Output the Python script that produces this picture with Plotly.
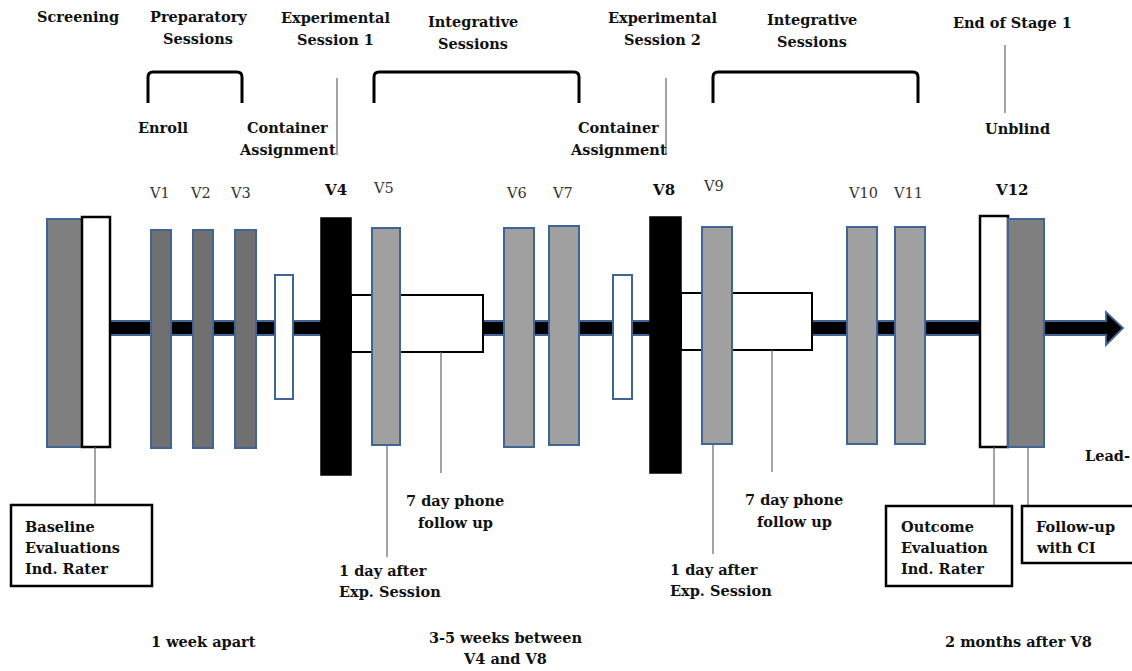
import plotly.graph_objects as go

# ---------------- data ----------------
visit_labels = ["V1", "V2", "V3", "V4", "V5", "V6", "V7", "V8", "V9", "V10", "V11", "V12"]
visit_x0 = [151, 193, 235, 321, 372, 504, 549, 650, 702, 847, 895, 980]
visit_x1 = [171, 213, 256, 351, 400, 534, 579, 681, 732, 877, 925, 1008]
visit_y0 = [230, 230, 230, 218, 228, 228, 226, 217, 227, 227, 227, 216]
visit_y1 = [448, 448, 448, 475, 445, 447, 445, 473, 444, 444, 444, 447]
visit_kind = ["prep", "prep", "prep", "exp", "int", "int", "int", "exp", "int", "int", "int", "end"]
visit_label_x = [159, 200, 240, 335, 383, 516, 562, 663, 713, 863, 908, 1012]
visit_label_y = [193, 193, 193, 190, 188, 193, 193, 190, 186, 193, 193, 190]

top_titles = ["Screening", "Preparatory<br>Sessions", "Experimental<br>Session 1",
              "Integrative<br>Sessions", "Experimental<br>Session 2",
              "Integrative<br>Sessions", "End of Stage 1"]
top_title_x = [78, 198, 335, 473, 662, 812, 1012]
top_title_y = [16, 16, 17, 21, 17, 19, 22]

brackets_x0 = [148, 374, 713]
brackets_x1 = [242, 579, 918]

mid_labels = ["Enroll", "Container<br>Assignment", "Container<br>Assignment", "Unblind"]
mid_label_x = [163, 287, 618, 1017]
mid_label_y = [127, 127, 127, 128]

bottom_notes = ["1 week apart", "3-5 weeks between<br>V4 and V8", "2 months after V8"]
bottom_note_x = [203, 505, 1018]
bottom_note_y = [641, 637, 641]

# ---------------- styles ----------------
BLUE = "#3f6597"
FILL = {"prep": "#707070", "int": "#a0a0a0", "exp": "#000000", "end": "#ffffff"}
FONT = "DejaVu Serif"
FS = 14.5
LH = 22

fig = go.Figure()
shapes = []
ann = []

def rect(x0, y0, x1, y1, fill, line, lw):
    shapes.append(dict(type="rect", xref="x", yref="y", x0=x0, x1=x1, y0=y0, y1=y1,
                       fillcolor=fill, line=dict(color=line, width=lw), layer="above"))

def vline(x, y0, y1, color="#666666", w=1.2):
    shapes.append(dict(type="line", xref="x", yref="y", x0=x, x1=x, y0=y0, y1=y1,
                       line=dict(color=color, width=w), layer="above"))

def text(x, y, s, bold=True, anchor="center", size=FS, color="#111111", lh=LH):
    # y is the centre of the first line; further lines follow at lh spacing
    for i, line in enumerate(s.split("<br>")):
        ann.append(dict(x=x, y=y + i * lh, xref="x", yref="y",
                        text=("<b>%s</b>" % line) if bold else line,
                        showarrow=False, xanchor=anchor, yanchor="middle",
                        font=dict(family=FONT, size=size, color=color)))

# timeline arrow
shapes.append(dict(type="path", xref="x", yref="y",
                   path="M 110 321 L 1106 321 L 1106 312 L 1123 328 L 1106 345 L 1106 335 L 110 335 Z",
                   fillcolor="#000000", line=dict(color=BLUE, width=1.8), layer="above"))

# phone follow-up boxes (behind visits)
rect(351, 295, 483, 352, "#ffffff", "#000000", 2)
rect(681, 293, 812, 350, "#ffffff", "#000000", 2)

# container assignment small boxes
rect(275, 275, 293, 399, "#ffffff", BLUE, 2)
rect(613, 275, 632, 399, "#ffffff", BLUE, 2)

# screening blocks
rect(47, 219, 82, 447, "#7f7f7f", BLUE, 2)
rect(82, 217, 110, 447, "#ffffff", "#000000", 2.5)

# visits
for i, lab in enumerate(visit_labels):
    k = visit_kind[i]
    if k == "exp":
        rect(visit_x0[i], visit_y0[i], visit_x1[i], visit_y1[i], "#000000", "#000000", 1.5)
    elif k == "end":
        rect(visit_x0[i], visit_y0[i], visit_x1[i], visit_y1[i], "#ffffff", "#000000", 2.5)
    else:
        rect(visit_x0[i], visit_y0[i], visit_x1[i], visit_y1[i], FILL[k], BLUE, 2)
    bold = k in ("exp", "end")
    text(visit_label_x[i], visit_label_y[i], lab, bold=bold, size=15 if bold else 14.5,
         color="#111111" if bold else "#333333")

# final follow-up gray block
rect(1008, 219, 1044, 447, "#7f7f7f", BLUE, 2)

# brackets
for x0, x1 in zip(brackets_x0, brackets_x1):
    top, bot, r = 72, 103, 5
    shapes.append(dict(type="path", xref="x", yref="y",
                       path="M %d %d L %d %d Q %d %d %d %d L %d %d Q %d %d %d %d L %d %d" % (
                           x0, bot, x0, top + r, x0, top, x0 + r, top, x1 - r, top, x1, top, x1, top + r, x1, bot),
                       line=dict(color="#000000", width=3), layer="above"))

# connector lines
vline(337, 78, 155)
vline(666, 78, 155)
vline(1005, 45, 113)
vline(95, 447, 505)
vline(387, 445, 557)
vline(441, 352, 473)
vline(713, 444, 554)
vline(772, 350, 472)
vline(994, 447, 506)
vline(1028, 447, 506)

# titles
for s, x, y in zip(top_titles, top_title_x, top_title_y):
    text(x, y, s)
for s, x, y in zip(mid_labels, mid_label_x, mid_label_y):
    text(x, y, s)
for s, x, y in zip(bottom_notes, bottom_note_x, bottom_note_y):
    text(x, y, s, lh=21)

# phone follow-up & day-after notes
text(455, 500, "7 day phone<br>follow up")
text(794, 499, "7 day phone<br>follow up")
text(337, 570, "1 day after<br>Exp. Session", anchor="left", lh=21)
text(668, 569, "1 day after<br>Exp. Session", anchor="left", lh=21)

# label boxes
rect(11, 505, 152, 586, "#ffffff", "#000000", 2.5)
text(23, 526, "Baseline<br>Evaluations<br>Ind. Rater", anchor="left", lh=21)
rect(886, 506, 1012, 586, "#ffffff", "#000000", 2.5)
text(899, 526, "Outcome<br>Evaluation<br>Ind. Rater", anchor="left", lh=21)
rect(1022, 506, 1150, 563, "#ffffff", "#000000", 2.5)
text(1034, 526, "Follow-up<br>with CI", anchor="left", lh=21)

text(1083, 455, "Lead-", anchor="left")

fig.update_layout(
    width=1132, height=671,
    margin=dict(l=0, r=0, t=0, b=0),
    paper_bgcolor="white", plot_bgcolor="white",
    xaxis=dict(range=[0, 1132], visible=False, fixedrange=True),
    yaxis=dict(range=[671, 0], visible=False, fixedrange=True),
    shapes=shapes, annotations=ann, showlegend=False,
)
fig.write_html("out.html", config={"displayModeBar": False},
               post_script="document.body.style.margin='0';document.body.style.overflow='hidden';")
